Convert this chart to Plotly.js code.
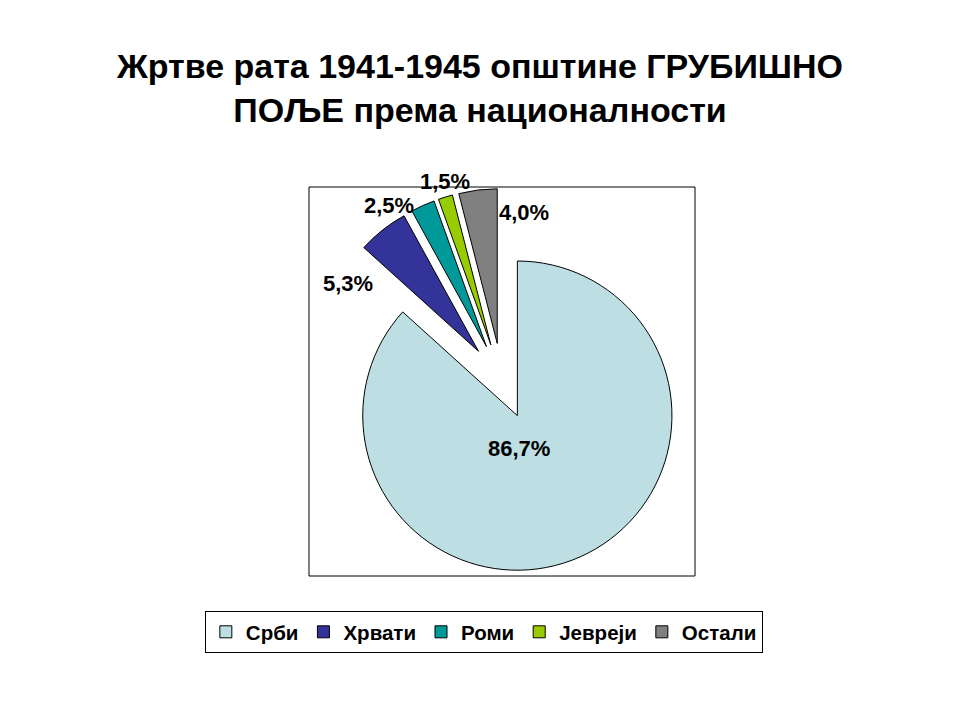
<!DOCTYPE html>
<html>
<head>
<meta charset="utf-8">
<script src="https://cdn.plot.ly/plotly-3.0.1.min.js"></script>
<style>
  html, body { margin: 0; padding: 0; background: #fff; }
  #chart { width: 960px; height: 720px; }
</style>
</head>
<body>
<div id="chart"></div>
<script>
// Жртве рата по националности (проценти)
var nations = ['Срби', 'Хрвати', 'Роми', 'Јевреји', 'Остали'];
var shares = [86.7, 5.3, 2.5, 1.5, 4.0];
var sliceColors = ['#BDDFE3', '#333399', '#009999', '#99CC00', '#808080'];

// where Excel put each data label (px, label centre)
var labelPx = [[519, 448], [348, 284], [389, 205], [445, 181], [524, 212]];

const W = 960, H = 720;
const fontName = 'Liberation Sans, Arial, sans-serif';

var pie = {
    type: 'pie',
    labels: nations,
    values: shares,
    textinfo: 'none',
    hoverinfo: 'label+percent',
    sort: false,
    direction: 'clockwise',
    rotation: 0,
    pull: 0.245,
    marker: {colors: sliceColors, line: {color: '#000', width: 1}},
    domain: {x: [0.3224, 0.7234], y: [0.2035, 0.7382]},
};

var annotations = shares.map((v, i) => ({
    xref: 'paper', yref: 'paper',
    x: labelPx[i][0] / W, y: 1 - labelPx[i][1] / H,
    xanchor: 'center', yanchor: 'middle',
    text: v.toFixed(1).replace('.', ',') + '%',
    showarrow: false,
    font: {family: fontName, size: 22, color: '#000', weight: 'bold'},
}));

var layout = {
    width: W,
    height: H,
    margin: {l: 0, r: 0, t: 0, b: 0},
    paper_bgcolor: '#fff',
    plot_bgcolor: '#fff',
    title: {
        text: 'Жртве рата 1941-1945 општине ГРУБИШНО<br>ПОЉЕ према националности',
        font: {family: fontName, size: 34, color: '#000', weight: 'bold'},
        x: 0.5, xanchor: 'center',
        y: 1 - 78 / H, yanchor: 'top',
    },
    showlegend: true,
    legend: {
        orientation: 'h',
        x: 0.504, xanchor: 'center',
        y: 1 - 611 / H, yanchor: 'top',
        bordercolor: '#000',
        borderwidth: 1,
        bgcolor: '#fff',
        font: {family: fontName, size: 20.5, color: '#000', weight: 'bold'},
        traceorder: 'normal',
    },
    annotations: annotations,
    shapes: [
        // рамка површине графикона
        {type: 'rect', xref: 'paper', yref: 'paper', layer: 'below',
         x0: 309 / W, x1: 695 / W, y0: 1 - 576 / H, y1: 1 - 187 / H,
         line: {color: '#000', width: 1}, fillcolor: 'rgba(0,0,0,0)'},
    ],
};

Plotly.newPlot('chart', [pie], layout, {displayModeBar: false, staticPlot: true});
</script>
</body>
</html>
